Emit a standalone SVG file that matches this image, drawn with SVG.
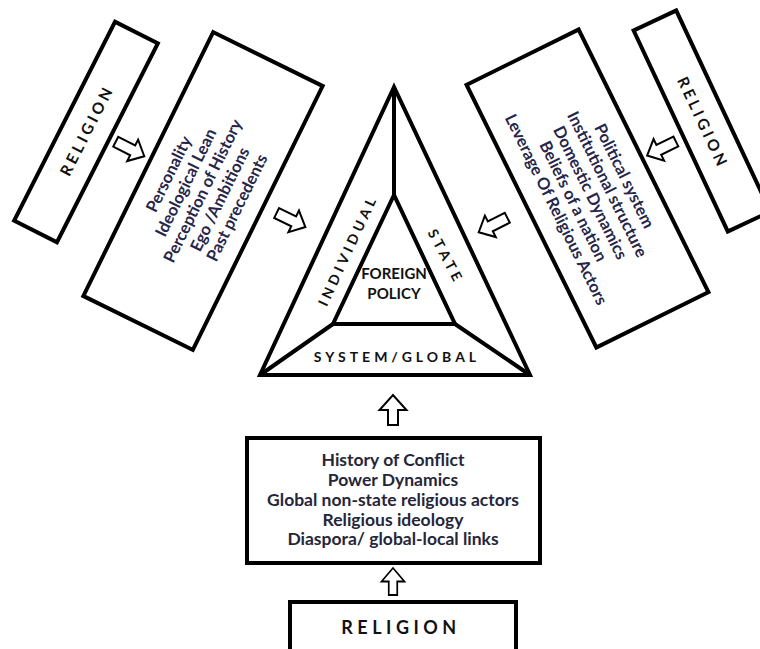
<svg xmlns="http://www.w3.org/2000/svg" width="760" height="649" viewBox="0 0 760 649">
<style>
.box{fill:#fff;stroke:#000;stroke-width:4}
.ln{fill:none;stroke:#000;stroke-width:4;stroke-linejoin:miter}
.arr{fill:#fff;stroke:#000;stroke-width:2;stroke-linejoin:miter}
.rel{font-family:Lato,"Liberation Sans",sans-serif;font-weight:bold;font-size:15.5px;letter-spacing:3.5px;fill:#111;text-anchor:middle}
.lab{font-family:Lato,"Liberation Sans",sans-serif;font-weight:bold;font-size:14px;letter-spacing:4px;fill:#111;text-anchor:middle}
.fp{font-family:Lato,"Liberation Sans",sans-serif;font-weight:bold;font-size:15px;fill:#111;text-anchor:middle}
.tx{font-family:Lato,"Liberation Sans",sans-serif;font-weight:bold;font-size:16.5px;fill:#26264a;text-anchor:middle}
.bt{font-family:Lato,"Liberation Sans",sans-serif;font-weight:bold;font-size:17.5px;fill:#26263a;text-anchor:middle}
</style>
<defs>
<path id="a" d="M-16,-5.5 L3,-5.5 L3,-12 L16,0 L3,12 L3,5.5 L-16,5.5 Z"/>
<path id="u" d="M-15,-5 L0,-5 L0,-13.5 L15,0 L0,13.5 L0,5 L-15,5 Z"/>
</defs>
<rect width="760" height="649" fill="#fff"/>

<g id="religion-left" transform="translate(86,132) rotate(-63.1)">
<rect class="box" x="-111.5" y="-24" width="223" height="48"/>
<text class="rel" x="2" y="5.5">RELIGION</text>
</g>

<g id="individual-factors" transform="translate(203,191) rotate(-63.8)">
<rect class="box" x="-147" y="-61" width="294" height="122"/>
<text class="tx" x="0" y="-32.5">Personality</text>
<text class="tx" x="0" y="-13.5">Ideological Lean</text>
<text class="tx" x="0" y="5.5">Perception of History</text>
<text class="tx" x="0" y="24.5">Ego /Ambitions</text>
<text class="tx" x="0" y="43.5">Past precedents</text>
</g>

<g id="state-factors" transform="translate(587.5,188.5) rotate(63.7)">
<rect class="box" x="-146.5" y="-62.5" width="293" height="125"/>
<text class="tx" x="5" y="-33">Political system</text>
<text class="tx" x="5" y="-14">Institutional structure</text>
<text class="tx" x="5" y="5">Domestic Dynamics</text>
<text class="tx" x="5" y="24">Beliefs of a nation</text>
<text class="tx" x="5" y="43">Leverage Of Religious Actors</text>
</g>

<g id="religion-right" transform="translate(702,121) rotate(64.9)">
<rect class="box" x="-111" y="-23.5" width="222" height="47"/>
<text class="rel" x="2" y="5.5">RELIGION</text>
</g>

<g id="foreign-policy-triangle">
<path class="ln" d="M394,87 L260,375 L530,375 Z"/>
<path class="ln" d="M394,195 L333,324 L455,324 Z"/>
<path class="ln" d="M394,87 L394,195 M333,324 L260,375 M455,324 L530,375"/>
<text class="lab" transform="translate(347,252) rotate(-65)" x="2" y="5">INDIVIDUAL</text>
<text class="lab" transform="translate(445,255) rotate(62)" x="2" y="5">STATE</text>
<text class="lab" x="397" y="362">SYSTEM/GLOBAL</text>
<text class="fp" x="394" y="279">FOREIGN</text>
<text class="fp" x="394" y="299">POLICY</text>
</g>

<g id="system-factors">
<rect class="box" x="247" y="438" width="293" height="125" stroke-width="4.5"/>
<text class="bt" x="393" y="466">History of Conflict</text>
<text class="bt" x="393" y="486">Power Dynamics</text>
<text class="bt" x="393" y="506">Global non-state religious actors</text>
<text class="bt" x="393" y="526">Religious ideology</text>
<text class="bt" x="393" y="545">Diaspora/ global-local links</text>
</g>

<g id="religion-bottom">
<rect class="box" x="290" y="602" width="226" height="60"/>
<text class="rel" x="401" y="634" style="font-size:18px;letter-spacing:4.5px">RELIGION</text>
</g>

<g id="connectors">
<use href="#a" class="arr" transform="translate(130,149) rotate(27)"/>
<use href="#a" class="arr" transform="translate(291,220) rotate(26)"/>
<use href="#a" class="arr" transform="translate(493,225) rotate(153)"/>
<use href="#a" class="arr" transform="translate(661.5,148.5) rotate(154)"/>
<use href="#u" class="arr" transform="translate(393,410) rotate(-90)"/>
<use href="#u" class="arr" transform="translate(393,581.5) rotate(-90) scale(0.9,0.85)"/>
</g>
</svg>
